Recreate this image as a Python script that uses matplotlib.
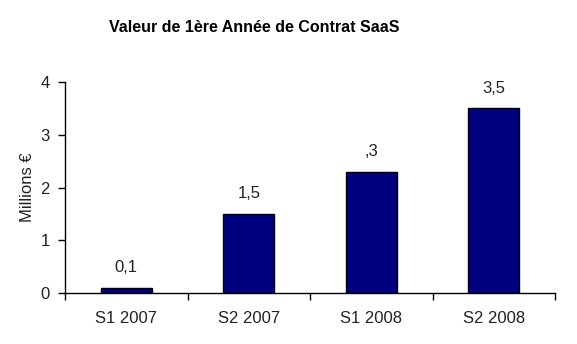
import matplotlib.pyplot as plt
import numpy as np

plt.rcParams['font.family'] = ['Liberation Sans', 'DejaVu Sans']

categories = ["S1 2007", "S2 2007", "S1 2008", "S2 2008"]
values = [0.1, 1.5, 2.3, 3.5]
value_labels = ["0,1", "1,5", ",3", "3,5"]

fig = plt.figure(figsize=(5.77, 3.44), dpi=100)
ax = fig.add_axes([65 / 577, 51 / 344, 490 / 577, 211 / 344])

ind = np.arange(len(categories))
bars = ax.bar(ind, values, 0.42, color='#000080', edgecolor='black', linewidth=1)

for rect, lab in zip(bars, value_labels):
    ax.annotate(lab, (rect.get_x() + rect.get_width() / 2, rect.get_height()),
                xytext=(0, 9), textcoords='offset points',
                ha='center', va='bottom', fontsize=12, color='#222222')

ax.set_xlim(-0.5, len(categories) - 0.5)
ax.set_ylim(0, 4)
ax.set_yticks([0, 1, 2, 3, 4])
ax.set_yticklabels(["0", "1", "2", "3", "4"])
ax.set_xticks(ind)
ax.set_xticklabels(categories)
ax.set_xticks(np.arange(len(categories) + 1) - 0.5, minor=True)
ax.tick_params(axis='x', which='major', length=0, pad=13, labelsize=12, colors='#222222')
ax.tick_params(axis='x', which='minor', length=5, direction='out', width=1)
ax.tick_params(axis='y', length=5, direction='out', width=1, pad=6, labelsize=12, colors='#222222')
ax.tick_params(axis='both', color='black')

for s in ['top', 'right']:
    ax.spines[s].set_visible(False)
for s in ['left', 'bottom']:
    ax.spines[s].set_linewidth(1)
    ax.spines[s].set_color('black')

ax.set_ylabel("Millions €", fontsize=12, color='#222222', labelpad=4)

fig.text(254 / 577, 1 - 28 / 344, "Valeur de 1ère Année de Contrat SaaS",
         ha='center', va='center', fontsize=11.5, fontweight='bold')

fig.savefig("out.png", dpi=100)
